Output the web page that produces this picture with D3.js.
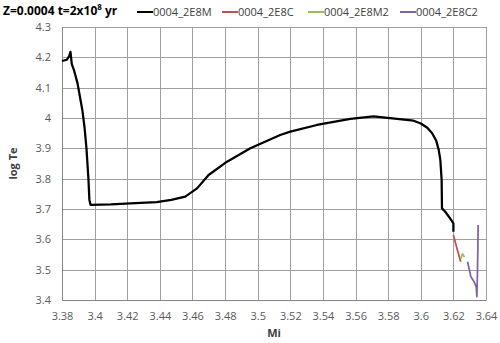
<!DOCTYPE html>
<html>
<head>
<meta charset="utf-8">
<script src="https://cdn.jsdelivr.net/npm/d3@7"></script>
<style>
  body { margin: 0; background: #fff; }
  text { font-family: "Open Sans", "Liberation Sans", sans-serif; }
</style>
</head>
<body>
<script>
// series: [Mi, log Te]
var seriesNames = ["0004_2E8M", "0004_2E8C", "0004_2E8M2", "0004_2E8C2"];
var seriesColors = ["#000000", "#c0504d", "#9bbb59", "#8064a2"];

var m2E8M = [
  [3.380, 4.188], [3.383, 4.192], [3.3845, 4.205], [3.3852, 4.218], [3.386, 4.178],
  [3.3875, 4.155], [3.3895, 4.115], [3.391, 4.07], [3.3925, 4.025], [3.3938, 3.97],
  [3.395, 3.90], [3.3962, 3.80], [3.3968, 3.73], [3.3975, 3.714], [3.41, 3.715],
  [3.425, 3.719], [3.438, 3.723], [3.447, 3.73], [3.4556, 3.741], [3.4628, 3.768],
  [3.4699, 3.812], [3.4812, 3.856], [3.4955, 3.90], [3.5138, 3.944], [3.52, 3.955],
  [3.5363, 3.977], [3.5568, 3.997], [3.571, 4.005], [3.5956, 3.991], [3.600, 3.982],
  [3.604, 3.968], [3.607, 3.950], [3.6095, 3.925], [3.611, 3.895], [3.612, 3.862],
  [3.6128, 3.795], [3.613, 3.702], [3.615, 3.691], [3.618, 3.669], [3.620, 3.653],
  [3.620, 3.625]
];
var m2E8C = [[3.620, 3.614], [3.6222, 3.57], [3.6245, 3.526]];
var m2E8M2 = [[3.6245, 3.535], [3.6256, 3.552], [3.6268, 3.542]];
var m2E8C2 = [
  [3.6287, 3.526], [3.6307, 3.477], [3.6327, 3.46], [3.634, 3.444], [3.6344, 3.411],
  [3.6348, 3.50], [3.6352, 3.647]
];
var allSeries = [m2E8M, m2E8C, m2E8M2, m2E8C2];

var xTicks = [3.38, 3.4, 3.42, 3.44, 3.46, 3.48, 3.5, 3.52, 3.54, 3.56, 3.58, 3.6, 3.62, 3.64];
var yTicks = [3.4, 3.5, 3.6, 3.7, 3.8, 3.9, 4, 4.1, 4.2, 4.3];

var width = 500, height = 343;
var margin = { top: 27, right: 14, bottom: 43, left: 62 };

var svg = d3.select("body").append("svg")
    .attr("width", width)
    .attr("height", height);

var xScale = d3.scaleLinear()
    .domain([3.38, 3.64])
    .range([margin.left, width - margin.right]);

var yScale = d3.scaleLinear()
    .domain([3.4, 4.3])
    .range([height - margin.bottom, margin.top]);

// grid
svg.append("g")
  .selectAll("line.v")
  .data(xTicks)
  .enter().append("line")
    .attr("x1", function (d) { return Math.round(xScale(d)) + 0.5; })
    .attr("x2", function (d) { return Math.round(xScale(d)) + 0.5; })
    .attr("y1", margin.top)
    .attr("y2", height - margin.bottom)
    .attr("stroke", "#a0a0a0")
    .attr("stroke-width", 1);

svg.append("g")
  .selectAll("line.h")
  .data(yTicks)
  .enter().append("line")
    .attr("x1", margin.left)
    .attr("x2", width - margin.right)
    .attr("y1", function (d) { return Math.round(yScale(d)) + 0.5; })
    .attr("y2", function (d) { return Math.round(yScale(d)) + 0.5; })
    .attr("stroke", "#a0a0a0")
    .attr("stroke-width", 1);

// axes
var xAxis = d3.axisBottom(xScale)
    .tickValues(xTicks)
    .tickSize(0)
    .tickPadding(12)
    .tickFormat(d3.format("~g"));

var yAxis = d3.axisLeft(yScale)
    .tickValues(yTicks)
    .tickSize(0)
    .tickPadding(11)
    .tickFormat(d3.format("~g"));

var gx = svg.append("g")
    .attr("transform", "translate(0," + (height - margin.bottom) + ")")
    .call(xAxis);
var gy = svg.append("g")
    .attr("transform", "translate(" + margin.left + ",0)")
    .call(yAxis);

[gx, gy].forEach(function (g) {
  g.select(".domain").attr("stroke", "#868686");
  g.selectAll("text")
    .attr("fill", "#595959")
    .style("font-size", "11px")
    .style("font-family", "'Open Sans', sans-serif");
});

// lines
var plainLine = d3.line()
    .x(function (d) { return xScale(d[0]); })
    .y(function (d) { return yScale(d[1]); });

allSeries.forEach(function (s, i) {
  svg.append("path")
    .datum(s)
    .attr("fill", "none")
    .attr("stroke", seriesColors[i])
    .attr("stroke-width", i === 0 ? 2.25 : 1.75)
    .attr("stroke-linejoin", "round")
    .attr("d", plainLine);
});

// axis titles
svg.append("text")
    .attr("x", (margin.left + width - margin.right) / 2)
    .attr("y", 337)
    .attr("text-anchor", "middle")
    .style("font-size", "11px")
    .style("font-weight", "bold")
    .attr("fill", "#404040")
    .text("Mi");

svg.append("text")
    .attr("transform", "translate(17," + ((margin.top + height - margin.bottom) / 2) + ") rotate(-90)")
    .attr("text-anchor", "middle")
    .style("font-size", "11px")
    .style("font-weight", "bold")
    .attr("fill", "#404040")
    .text("log Te");

// title
var title = svg.append("text")
    .attr("x", 3)
    .attr("y", 15)
    .style("font-size", "12px")
    .style("font-weight", "bold")
    .attr("fill", "#000");
title.append("tspan").text("Z=0.0004 t=2x10");
title.append("tspan").attr("dy", -5).style("font-size", "8px").text("8");
title.append("tspan").attr("dy", 5).text(" yr");

// legend
var legendX = [137, 222, 308, 400];
var legend = svg.append("g")
  .selectAll("g")
  .data(seriesNames)
  .enter().append("g")
    .attr("transform", function (d, i) { return "translate(" + legendX[i] + ",12)"; });

legend.append("line")
    .attr("x1", 0)
    .attr("x2", 16)
    .attr("stroke", function (d, i) { return seriesColors[i]; })
    .attr("stroke-width", 2);

legend.append("text")
    .attr("x", 16)
    .attr("dy", "0.35em")
    .style("font-size", "11px")
    .attr("fill", "#404040")
    .text(function (d) { return d; });
</script>
</body>
</html>
